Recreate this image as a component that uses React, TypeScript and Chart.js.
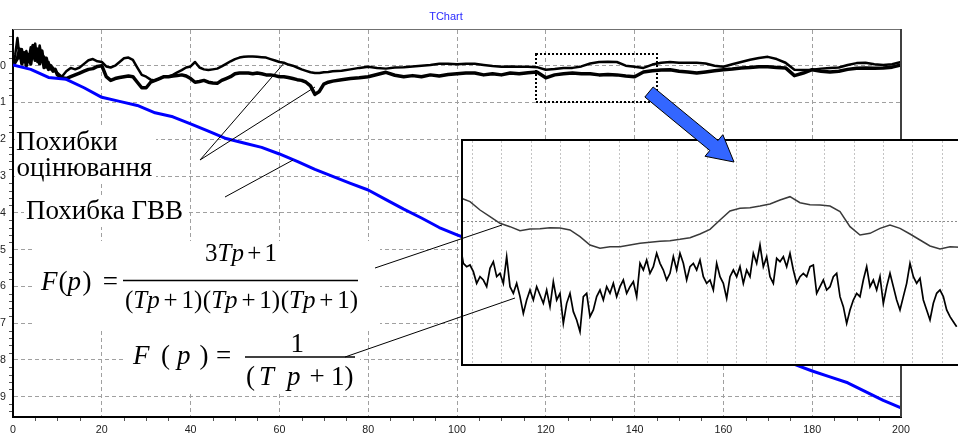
import React, { useEffect, useRef } from 'react';
import { Chart, registerables } from 'chart.js';

Chart.register(...registerables);

// ---------------- data ----------------
const Y_TICK_LABELS = ['0', '1', '2', '3', '4', '5', '6', '7', '8', '9'];

// time axis of the two estimation-error curves
const ERR_X = [
  0, 0.5, 1, 1.5, 2, 2.5, 3, 3.5, 4, 4.5, 5, 5.5, 6, 6.5, 7, 7.5, 8, 8.5, 9, 9.5, 10,
  11, 12, 13, 14, 15, 16, 17, 18, 19, 20, 21, 22, 23, 24, 25, 26, 27, 28, 29, 30,
  31, 32, 33, 34, 35, 36, 37, 38, 39, 40, 41, 42, 43, 44, 45, 46, 47, 48, 49, 50,
  51, 52, 53, 54, 55, 56, 57, 58, 59, 60, 61, 62, 63, 64, 65, 66, 67, 68, 69, 70,
  71, 72, 74, 76, 78, 80, 82, 84, 86, 88, 90, 92, 94, 96, 98, 100,
  102, 104, 106, 108, 110, 112, 114, 116, 118, 120, 122, 124, 126, 128, 130,
  132, 134, 136, 138, 140, 142, 144, 146, 148, 150, 152, 154, 156, 158, 160,
  162, 164, 166, 168, 170, 172, 174, 176, 178, 180, 182, 184, 186, 188, 190,
  192, 194, 196, 198, 200,
];

// "Похибки оцінювання" – smoother (upper) curve
const ERR_UPPER = [
  0.0, 0.3, 0.75, 0.2, 0.45, 0.1, 0.4, 0.15, 0.5, 0.2, 0.6, 0.1, 0.55, 0.2, 0.25, -0.05, 0.1, -0.1, -0.05, -0.15, -0.2,
  -0.3, -0.15, -0.06, -0.1, -0.05, 0.05, 0.15, 0.18, 0.12, 0.1, -0.02, -0.05, 0.0, 0.1, 0.2, 0.22, 0.16, -0.05, -0.25, -0.3,
  -0.38, -0.4, -0.35, -0.3, -0.3, -0.25, -0.18, -0.12, -0.05, -0.02, 0.1, -0.05, -0.1, -0.12, -0.1, -0.08, -0.02, 0.05, 0.12, 0.18,
  0.22, 0.24, 0.25, 0.25, 0.24, 0.23, 0.22, 0.18, 0.14, 0.1, 0.08, 0.03, 0.0, -0.05, -0.1, -0.14, -0.18, -0.2, -0.2, -0.18,
  -0.17, -0.15, -0.14, -0.1, -0.06, -0.03, -0.06, -0.08, -0.05, -0.04, -0.02, 0.0, 0.02, 0.05, 0.05, 0.04,
  0.05, 0.05, 0.02, -0.01, -0.03, -0.02, -0.03, -0.03, -0.04, -0.11, -0.09, -0.06, -0.06, -0.02, 0.06,
  0.1, 0.11, 0.1, 0.0, -0.03, -0.06, 0.03, 0.08, 0.1, 0.08, 0.08, 0.08, 0.06, 0.0, -0.03,
  0.04, 0.1, 0.16, 0.21, 0.24, 0.18, 0.08, -0.11, -0.12, -0.11, -0.08, -0.06, -0.05, 0.02, 0.07,
  0.08, 0.04, 0.02, 0.04, 0.1,
];

// "Похибки оцінювання" – noisy (lower) curve
const ERR_LOWER = [
  0.0, 0.1, 0.2, 0.45, 0.05, 0.35, 0.0, 0.3, 0.05, 0.55, 0.15, 0.45, 0.05, 0.4, -0.05, 0.2, -0.1, 0.0, -0.15, -0.1, -0.25,
  -0.33, -0.35, -0.3, -0.25, -0.2, -0.15, -0.1, -0.08, -0.02, 0.0, -0.3, -0.4, -0.35, -0.32, -0.3, -0.28, -0.3, -0.45, -0.6, -0.6,
  -0.45, -0.4, -0.35, -0.3, -0.3, -0.28, -0.27, -0.25, -0.28, -0.35, -0.45, -0.43, -0.4, -0.45, -0.47, -0.48, -0.4, -0.35, -0.3, -0.22,
  -0.2, -0.2, -0.2, -0.22, -0.2, -0.22, -0.25, -0.25, -0.27, -0.3, -0.3, -0.32, -0.35, -0.38, -0.4, -0.45, -0.55, -0.78, -0.7, -0.5,
  -0.45, -0.42, -0.38, -0.35, -0.33, -0.3, -0.24, -0.18, -0.26, -0.3, -0.27, -0.3, -0.25, -0.28, -0.24, -0.22,
  -0.2, -0.2, -0.25, -0.22, -0.25, -0.2, -0.22, -0.19, -0.17, -0.33, -0.25, -0.22, -0.2, -0.22, -0.22,
  -0.25, -0.24, -0.25, -0.28, -0.3, -0.17, -0.14, -0.12, -0.11, -0.15, -0.17, -0.2, -0.17, -0.14, -0.11,
  -0.09, -0.06, -0.05, -0.03, -0.03, -0.05, -0.06, -0.27, -0.2, -0.11, -0.15, -0.17, -0.15, -0.1, -0.07,
  -0.06, -0.07, -0.06, -0.04, 0.02,
];

// "Похибка ГВВ"
const GVV_X = [
  0, 4, 8, 12, 16, 20, 24, 28, 32, 36, 40, 44, 48, 52, 56, 60, 64, 68, 72, 76, 80, 84, 88, 92, 96, 100,
  104, 108, 112, 116, 120, 124, 128, 132, 136, 140, 144, 148, 152, 156, 160, 164, 168, 172, 176, 180,
  184, 188, 192, 196, 200,
];
const GVV = [
  0.02, -0.1, -0.32, -0.37, -0.6, -0.86, -0.97, -1.08, -1.28, -1.39, -1.58, -1.78, -1.98, -2.1, -2.22, -2.4,
  -2.6, -2.82, -3.01, -3.2, -3.38, -3.64, -3.9, -4.14, -4.4, -4.6, -4.78, -4.96, -5.16, -5.34, -5.52, -5.72,
  -5.9, -6.08, -6.28, -6.46, -6.64, -6.84, -7.02, -7.2, -7.4, -7.58, -7.76, -7.96, -8.12, -8.3, -8.46, -8.62,
  -8.86, -9.1, -9.3,
];

// zoomed window (inset), error in thousandths, sampled uniformly in time
const INSET_T0 = 117.856;
const INSET_SMOOTH_STEP = 0.48;
const INSET_SMOOTH = [
  72, 60, 35, 15, -5, -15, -27, -22, -21, -18, -19, -25, -45, -70, -80, -75, -75, -70, -65, -62, -59, -57, -53,
  -48, -37, -23, 5, 32, 40, 42, 47, 53, 65, 75, 57, 51, 50, 47, 30, -15, -40, -35, -20, -10, -20, -37, -55,
  -73, -82, -75, -77,
];
const INSET_NOISY_STEP = 0.16;
const INSET_NOISY = [
  -65, -125, -135, -130, -150, -185, -165, -175, -195, -140,
  -120, -165, -155, -185, -105, -195, -215, -185, -225, -275,
  -235, -205, -235, -195, -220, -245, -205, -255, -180, -235,
  -215, -305, -245, -215, -270, -295, -330, -225, -215, -285,
  -265, -225, -205, -235, -195, -215, -185, -225, -195, -175,
  -215, -195, -180, -225, -125, -145, -115, -155, -135, -95,
  -125, -145, -175, -155, -105, -145, -95, -125, -175, -135,
  -125, -145, -115, -165, -185, -175, -205, -125, -165, -185,
  -230, -165, -145, -165, -135, -185, -145, -165, -95, -125,
  -70, -135, -105, -165, -185, -110, -120, -105, -135, -95,
  -145, -185, -165, -155, -165, -135, -130, -215, -195, -175,
  -205, -195, -165, -155, -225, -255, -305, -265, -235, -215,
  -225, -175, -135, -195, -175, -205, -165, -245, -195, -155,
  -195, -235, -265, -225, -185, -125, -165, -185, -170, -235,
  -265, -295, -245, -215, -205, -225, -265, -285, -300, -315,
];

// ---------------- styling / layout ----------------
const SANS = '"Liberation Sans", Arial, sans-serif';
const SERIF = '"Liberation Serif", "Times New Roman", serif';
const MAIN_W = 958;
const MAIN_H = 435;
const INSET_LEFT = 461;
const INSET_TOP = 139;
const INSET_W = 504;
const INSET_H = 227;
const FS = 27;
const FS_FRAC = 25;

type Glyph = [string, boolean, number];
type Part = [string, boolean, number]; // text, italic, gap before

function setSerif(ctx: CanvasRenderingContext2D, it: boolean, size: number) {
  ctx.font = `${it ? 'italic ' : ''}${size}px ${SERIF}`;
}

function drawGlyphs(ctx: CanvasRenderingContext2D, glyphs: Glyph[], baseline: number, size: number) {
  ctx.textAlign = 'left';
  ctx.textBaseline = 'alphabetic';
  for (const [t, it, x] of glyphs) {
    setSerif(ctx, it, size);
    ctx.fillText(t, x, baseline);
  }
}

function partsWidth(ctx: CanvasRenderingContext2D, parts: Part[], size: number) {
  let w = 0;
  for (const [t, it, g] of parts) {
    setSerif(ctx, it, size);
    w += g + ctx.measureText(t).width;
  }
  return w;
}

function drawParts(ctx: CanvasRenderingContext2D, parts: Part[], x: number, baseline: number, size: number) {
  ctx.textAlign = 'left';
  ctx.textBaseline = 'alphabetic';
  let cx = x;
  for (const [t, it, g] of parts) {
    cx += g;
    setSerif(ctx, it, size);
    ctx.fillText(t, cx, baseline);
    cx += ctx.measureText(t).width;
  }
}

// lay out parts so that they span [x0, x1], spreading spare room over the flexible gaps (marked -1)
function drawFitted(ctx: CanvasRenderingContext2D, parts: Part[], x0: number, x1: number, baseline: number, size: number) {
  const fixed: Part[] = parts.map(([t, it, g]) => [t, it, g < 0 ? 0 : g]);
  const base = partsWidth(ctx, fixed, size);
  const flex = parts.filter((p) => p[2] < 0).length;
  const extra = flex > 0 ? Math.max(1, (x1 - x0 - base) / flex) : 0;
  const laid: Part[] = parts.map(([t, it, g]) => [t, it, g < 0 ? extra : g]);
  drawParts(ctx, laid, x0, baseline, size);
}

function line(ctx: CanvasRenderingContext2D, x1: number, y1: number, x2: number, y2: number) {
  ctx.beginPath();
  ctx.moveTo(x1, y1);
  ctx.lineTo(x2, y2);
  ctx.stroke();
}

// connectors and the blue arrow – drawn on both canvases so they stay on top of the inset
function drawOverlay(ctx: CanvasRenderingContext2D, ox: number, oy: number) {
  ctx.save();
  ctx.translate(-ox, -oy);
  ctx.strokeStyle = '#000';
  ctx.lineWidth = 1;
  ctx.setLineDash([]);
  const connectors = [
    [200, 160, 285, 62],
    [200, 160, 315, 87],
    [225, 197, 293, 160],
    [375, 268, 502, 225],
    [345, 357, 515, 298],
  ];
  for (const c of connectors) line(ctx, c[0], c[1], c[2], c[3]);

  // arrow
  const tx = 649, ty = 92, px = 734, py = 162;
  const len = Math.hypot(px - tx, py - ty);
  const ux = (px - tx) / len, uy = (py - ty) / len;
  const nx = -uy, ny = ux;
  const hw = 6.5, hh = 14, hl = 26;
  const bx = px - ux * hl, by = py - uy * hl;
  ctx.beginPath();
  ctx.moveTo(tx + nx * hw, ty + ny * hw);
  ctx.lineTo(bx + nx * hw, by + ny * hw);
  ctx.lineTo(bx + nx * hh, by + ny * hh);
  ctx.lineTo(px, py);
  ctx.lineTo(bx - nx * hh, by - ny * hh);
  ctx.lineTo(bx - nx * hw, by - ny * hw);
  ctx.lineTo(tx - nx * hw, ty - ny * hw);
  ctx.closePath();
  ctx.fillStyle = '#3366ff';
  ctx.fill();
  ctx.strokeStyle = '#000';
  ctx.lineWidth = 1;
  ctx.stroke();
  ctx.restore();
}

const mainDecor = {
  id: 'mainDecor',
  beforeDraw(chart: any) {
    const ctx = chart.ctx as CanvasRenderingContext2D;
    ctx.save();
    ctx.fillStyle = '#fff';
    ctx.fillRect(0, 0, chart.width, chart.height);
    ctx.restore();
  },
  afterDraw(chart: any) {
    const ctx = chart.ctx as CanvasRenderingContext2D;
    const { left, right, top, bottom } = chart.chartArea;
    const xs = chart.scales.x;
    const ys = chart.scales.y;
    ctx.save();

    // frame (top and right)
    ctx.strokeStyle = '#707070';
    ctx.lineWidth = 1;
    line(ctx, left, top - 0.5, right, top - 0.5);
    ctx.strokeStyle = '#404040';
    ctx.lineWidth = 2;
    line(ctx, right, top - 1, right, bottom);

    // minor ticks
    ctx.strokeStyle = '#555';
    ctx.lineWidth = 1;
    for (let v = 5; v < 200; v += 5) {
      if (v % 20 === 0) continue;
      const x = Math.round(xs.getPixelForValue(v)) + 0.5;
      line(ctx, x, bottom + 1, x, bottom + 4);
    }
    for (let k = -47; k <= 4; k++) {
      if (k % 5 === 0) continue;
      const y = Math.round(ys.getPixelForValue(k * 0.2)) + 0.5;
      line(ctx, left - 4, y, left - 1, y);
    }

    // title
    ctx.fillStyle = '#2a2aff';
    ctx.font = `11px ${SANS}`;
    ctx.textAlign = 'center';
    ctx.textBaseline = 'middle';
    ctx.fillText('TChart', 446, 17);

    // white backgrounds of the annotations
    ctx.fillStyle = '#fff';
    ctx.fillRect(15, 127, 141, 56);
    ctx.fillRect(24, 196, 164, 31);
    ctx.fillRect(35, 241, 345, 87);
    ctx.fillRect(125, 330, 235, 63);

    // labels
    ctx.fillStyle = '#000';
    ctx.font = `${FS}px ${SERIF}`;
    ctx.textAlign = 'left';
    ctx.textBaseline = 'alphabetic';
    ctx.fillText('Похибки', 16, 150);
    ctx.fillText('оцінювання', 16.5, 176);
    ctx.fillText('Похибка ГВВ', 26, 219);

    // formula 1
    drawFitted(ctx, [['F', true, 0], ['(', false, 1], ['p', true, 0], [')', false, 1.5], ['=', false, -1]], 41, 118, 290, FS);
    drawFitted(ctx, [['3', false, 0], ['T', true, 0], ['p', true, 0], ['+', false, -1], ['1', false, -1]], 205, 277, 261, FS_FRAC);
    const den: Part[] = [];
    for (let i = 0; i < 3; i++) {
      den.push(['(', false, i === 0 ? 0 : 0.5], ['T', true, 0], ['p', true, 0], ['+', false, -1], ['1', false, -1], [')', false, 0]);
    }
    drawFitted(ctx, den, 125, 358, 308, FS_FRAC);
    ctx.strokeStyle = '#000';
    ctx.lineWidth = 1.5;
    line(ctx, 123, 280.5, 358, 280.5);

    // formula 2
    drawGlyphs(ctx, [['F', true, 133], ['(', false, 161], ['p', true, 177], [')', false, 199.5], ['=', false, 216]], 364, FS);
    drawGlyphs(ctx, [['1', false, 290.5]], 352, FS);
    drawGlyphs(ctx, [['(', false, 246], ['T', true, 259], ['p', true, 287], ['+', false, 309.5], ['1', false, 331], [')', false, 344.5]], 385, FS);
    line(ctx, 245, 357, 355, 357);

    // dotted zoom rectangle
    ctx.strokeStyle = '#000';
    ctx.lineWidth = 2;
    ctx.setLineDash([2, 2]);
    ctx.strokeRect(536, 54, 121, 48);
    ctx.setLineDash([]);
    ctx.restore();

    drawOverlay(ctx, 0, 0);
  },
};

const insetDecor = {
  id: 'insetDecor',
  beforeDraw(chart: any) {
    const ctx = chart.ctx as CanvasRenderingContext2D;
    ctx.save();
    ctx.fillStyle = '#fff';
    ctx.fillRect(0, 0, chart.width, chart.height);
    ctx.restore();
  },
  afterDraw(chart: any) {
    const ctx = chart.ctx as CanvasRenderingContext2D;
    ctx.save();
    ctx.strokeStyle = '#000';
    ctx.lineWidth = 2;
    ctx.strokeRect(1, 1, chart.width - 2, chart.height - 2);
    ctx.restore();
    drawOverlay(ctx, INSET_LEFT, INSET_TOP);
  },
};

export default function App() {
  const mainRef = useRef<HTMLCanvasElement>(null);
  const insetRef = useRef<HTMLCanvasElement>(null);

  useEffect(() => {
    document.body.style.margin = '0';
    document.body.style.overflow = 'hidden';

    const upperPts = ERR_X.map((x, i) => ({ x, y: ERR_UPPER[i] }));
    const lowerPts = ERR_X.map((x, i) => ({ x, y: ERR_LOWER[i] }));
    const gvvPts = GVV_X.map((x, i) => ({ x, y: GVV[i] }));
    const tickFont = { family: SANS, size: 10.67 };

    const main = new Chart(mainRef.current as HTMLCanvasElement, {
      type: 'line',
      data: {
        datasets: [
          { label: 'Похибка ГВВ', data: gvvPts, borderColor: '#0000ff', borderWidth: 3, pointRadius: 0, tension: 0, fill: false, borderJoinStyle: 'round' },
          { label: 'Похибка оцінювання 1', data: upperPts, borderColor: '#000', borderWidth: 2.5, pointRadius: 0, tension: 0, fill: false, borderJoinStyle: 'round' },
          { label: 'Похибка оцінювання 2', data: lowerPts, borderColor: '#000', borderWidth: 3.5, pointRadius: 0, tension: 0, fill: false, borderJoinStyle: 'round' },
        ],
      } as any,
      options: {
        animation: false,
        responsive: false,
        maintainAspectRatio: false,
        events: [],
        layout: { padding: { top: 30, right: 57, left: 0, bottom: 0 } },
        plugins: { legend: { display: false }, tooltip: { enabled: false }, title: { display: false } },
        scales: {
          x: {
            type: 'linear',
            min: 0,
            max: 200,
            ticks: { stepSize: 20, includeBounds: false, autoSkip: false, maxRotation: 0, padding: 7, color: '#222', font: tickFont },
            grid: {
              drawTicks: false,
              lineWidth: 1,
              color: (c: any) => (c.tick && (c.tick.value === 0 || c.tick.value === 200) ? 'rgba(0,0,0,0)' : '#a0a0a0'),
            },
            border: { display: true, color: '#000', width: 2, dash: [4, 3] },
            afterFit: (s: any) => { s.height = 18; },
          },
          y: {
            type: 'linear',
            min: -9.55,
            max: 0.97,
            ticks: {
              stepSize: 1,
              includeBounds: false,
              padding: 7,
              color: '#222',
              font: tickFont,
              callback: (v: any) => Y_TICK_LABELS[Math.round(-Number(v))] ?? '',
            },
            grid: { drawTicks: false, lineWidth: 1, color: '#a0a0a0' },
            border: { display: true, color: '#000', width: 2, dash: [4, 3] },
            afterFit: (s: any) => { s.width = 13; },
          },
        },
      } as any,
      plugins: [mainDecor],
    });

    const smoothPts = INSET_SMOOTH.map((v, i) => ({ x: INSET_T0 + i * INSET_SMOOTH_STEP, y: v }));
    const noisyPts = INSET_NOISY.map((v, i) => ({ x: INSET_T0 + i * INSET_NOISY_STEP, y: v }));

    const inset = new Chart(insetRef.current as HTMLCanvasElement, {
      type: 'line',
      data: {
        datasets: [
          { label: 'noisy', data: noisyPts, borderColor: '#000', borderWidth: 1.7, pointRadius: 0, tension: 0, fill: false },
          { label: 'smooth', data: smoothPts, borderColor: '#3a3a3a', borderWidth: 1.5, pointRadius: 0, tension: 0, fill: false },
        ],
      } as any,
      options: {
        animation: false,
        responsive: false,
        maintainAspectRatio: false,
        events: [],
        layout: { padding: 2 },
        plugins: { legend: { display: false }, tooltip: { enabled: false } },
        scales: {
          x: {
            type: 'linear',
            min: 118,
            max: 142,
            ticks: { display: false },
            grid: { drawTicks: false, color: '#c4c4c4', lineWidth: 1 },
            border: { display: false, dash: [2, 2] },
            afterBuildTicks: (s: any) => {
              const arr = [];
              for (let k = 0; k < 18; k++) arr.push({ value: 118.448 + k * 1.41 });
              s.ticks = arr;
            },
            afterFit: (s: any) => { s.height = 0; },
          },
          y: {
            type: 'linear',
            min: -427,
            max: 242,
            ticks: { display: false },
            grid: { drawTicks: false, color: '#8c8c8c', lineWidth: 1 },
            border: { display: false, dash: [2, 2] },
            afterBuildTicks: (s: any) => { s.ticks = [{ value: 0 }]; },
            afterFit: (s: any) => { s.width = 0; },
          },
        },
      } as any,
      plugins: [insetDecor],
    });

    return () => {
      main.destroy();
      inset.destroy();
    };
  }, []);

  return (
    <div style={{ position: 'absolute', left: 0, top: 0, width: MAIN_W, height: MAIN_H, overflow: 'hidden', background: '#fff' }}>
      <canvas
        ref={mainRef}
        width={MAIN_W}
        height={MAIN_H}
        style={{ position: 'absolute', left: 0, top: 0, width: MAIN_W, height: MAIN_H }}
      />
      <canvas
        ref={insetRef}
        width={INSET_W}
        height={INSET_H}
        style={{ position: 'absolute', left: INSET_LEFT, top: INSET_TOP, width: INSET_W, height: INSET_H }}
      />
    </div>
  );
}
